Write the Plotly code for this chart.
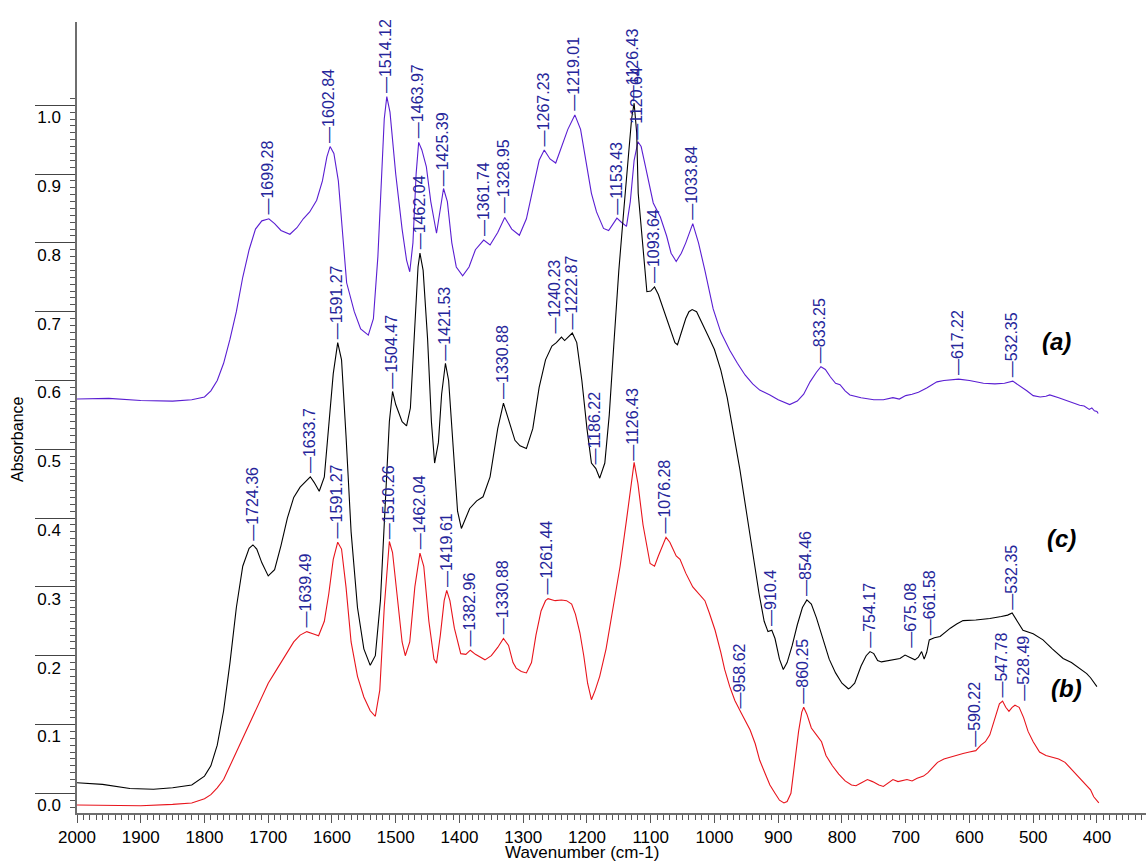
import numpy as np
import plotly.graph_objects as go

# ---------------- data ----------------
# Spectrum (a) - blue
wn_a = [2000, 1950, 1900, 1850, 1820, 1800, 1790, 1780, 1770, 1760, 1750, 1740, 1730, 1720, 1710,
        1699, 1690, 1680, 1666, 1655, 1645, 1635, 1624, 1615, 1608, 1603, 1597, 1590, 1583, 1577,
        1565, 1555, 1543, 1535, 1528, 1522, 1518, 1514, 1509, 1500, 1490, 1483, 1478, 1473, 1468,
        1464, 1459, 1452, 1445, 1436, 1431, 1425, 1419, 1412, 1405, 1395, 1385, 1375, 1362, 1352,
        1340, 1329, 1318, 1306, 1295, 1285, 1275, 1267, 1258, 1249, 1240, 1230, 1219, 1210, 1200,
        1193, 1185, 1174, 1166, 1160, 1153, 1146, 1138, 1132, 1126, 1120, 1115, 1108, 1096, 1085,
        1075, 1068, 1060, 1052, 1045, 1034, 1025, 1015, 1002, 990, 976, 964, 952, 940, 929, 913,
        900, 882, 870, 860, 850, 840, 833, 826, 818, 810, 803, 795, 787.5, 770, 750, 735, 720, 710,
        700, 690, 680, 667, 655, 651, 640, 630, 617, 600, 590, 578, 560, 545, 532, 520, 510, 500,
        489, 480, 474, 460, 445, 435, 427, 420, 412, 408, 404, 400, 398]
abs_a = [0.573, 0.574, 0.571, 0.570, 0.572, 0.576, 0.585, 0.600, 0.625, 0.660, 0.700, 0.750, 0.790, 0.820, 0.832,
         0.835, 0.828, 0.818, 0.8125, 0.822, 0.835, 0.845, 0.862, 0.890, 0.925, 0.940, 0.930, 0.890, 0.810, 0.742,
         0.700, 0.675, 0.666, 0.690, 0.780, 0.900, 0.980, 1.0125, 0.990, 0.900, 0.820, 0.775, 0.758, 0.800, 0.900,
         0.946, 0.935, 0.911, 0.860, 0.814, 0.845, 0.879, 0.860, 0.800, 0.765, 0.752, 0.765, 0.790, 0.804, 0.797,
         0.815, 0.837, 0.820, 0.811, 0.835, 0.880, 0.920, 0.935, 0.922, 0.916, 0.940, 0.965, 0.986, 0.965, 0.910,
         0.872, 0.845, 0.821, 0.818, 0.826, 0.836, 0.830, 0.824, 0.860, 0.920, 0.947, 0.940, 0.910, 0.858, 0.838,
         0.810, 0.785, 0.773, 0.785, 0.800, 0.828, 0.800, 0.760, 0.704, 0.670, 0.644, 0.625, 0.608, 0.595, 0.586, 0.579,
         0.572, 0.565, 0.570, 0.580, 0.598, 0.612, 0.620, 0.616, 0.605, 0.596, 0.594, 0.585, 0.579, 0.575, 0.572, 0.572, 0.575, 0.573,
         0.578, 0.580, 0.583, 0.589, 0.596, 0.598, 0.600, 0.601, 0.602, 0.600, 0.598, 0.596, 0.595, 0.596, 0.599, 0.592, 0.585, 0.578,
         0.576, 0.577, 0.579, 0.575, 0.570, 0.566, 0.564, 0.563, 0.558, 0.560, 0.556, 0.555, 0.552]

# Spectrum (c) - black
wn_c = [2000, 1960, 1917, 1880, 1850, 1820, 1800, 1790, 1780, 1770, 1760, 1750, 1740, 1730, 1724,
        1718, 1710, 1700, 1690, 1680, 1670, 1660, 1650, 1640, 1634, 1628, 1620, 1612, 1605, 1598,
        1591, 1585, 1578, 1570, 1560, 1550, 1540, 1532, 1524, 1516, 1510, 1505, 1500, 1490, 1483,
        1477, 1470, 1465, 1462, 1457, 1450, 1444, 1439, 1433, 1428, 1422, 1417, 1410, 1403, 1397,
        1390, 1384, 1373, 1363, 1352, 1340, 1331, 1322, 1313, 1305, 1295, 1285, 1275, 1265, 1255,
        1248, 1240, 1235, 1230, 1223, 1216, 1208, 1200, 1193, 1186, 1180, 1172, 1165, 1158, 1150,
        1142, 1136, 1130, 1126, 1122, 1119.6, 1113, 1106, 1100, 1094, 1088, 1080, 1070, 1062, 1058,
        1052, 1045, 1040, 1035, 1028, 1020, 1010, 1000, 990, 980, 970, 960, 950, 940, 930, 922,
        916, 910, 905, 898, 892, 886, 878, 870, 862, 855, 848, 840, 830, 820, 810, 800, 790, 787.5,
        780, 770, 762, 756, 750, 744, 738, 725, 715, 709, 701, 695, 685.5, 680, 675, 671, 667, 663,
        655, 646, 638, 630, 620, 610, 590, 568, 550, 540, 533, 528, 522, 516, 500, 484.6, 470, 453,
        440, 430, 421.5, 416, 410, 405, 400]
abs_c = [0.0154, 0.013, 0.007, 0.006, 0.008, 0.012, 0.025, 0.040, 0.070, 0.120, 0.190, 0.270, 0.330, 0.356, 0.361,
         0.355, 0.335, 0.316, 0.325, 0.360, 0.400, 0.430, 0.445, 0.455, 0.460, 0.452, 0.439, 0.460, 0.530, 0.610,
         0.655, 0.630, 0.520, 0.380, 0.270, 0.210, 0.186, 0.200, 0.280, 0.420, 0.540, 0.584, 0.565, 0.540, 0.534,
         0.560, 0.680, 0.765, 0.785, 0.760, 0.660, 0.540, 0.480, 0.510, 0.580, 0.625, 0.600, 0.500, 0.410, 0.385,
         0.400, 0.414, 0.425, 0.431, 0.460, 0.530, 0.567, 0.540, 0.513, 0.505, 0.501, 0.530, 0.590, 0.630, 0.650,
         0.655, 0.663, 0.658, 0.662, 0.669, 0.655, 0.600, 0.530, 0.480, 0.472, 0.458, 0.480, 0.550, 0.650, 0.760,
         0.850, 0.920, 0.980, 1.003, 0.960, 0.872, 0.800, 0.729, 0.730, 0.736, 0.725, 0.703, 0.675, 0.655, 0.652,
         0.670, 0.690, 0.700, 0.703, 0.700, 0.685, 0.665, 0.645, 0.615, 0.575, 0.525, 0.470, 0.410, 0.350, 0.290, 0.250,
         0.235, 0.237, 0.225, 0.195, 0.180, 0.190, 0.215, 0.245, 0.270, 0.281, 0.275, 0.255, 0.225, 0.195, 0.175, 0.160, 0.152, 0.153,
         0.160, 0.185, 0.200, 0.206, 0.203, 0.193, 0.191, 0.193, 0.194, 0.196, 0.201, 0.198, 0.194, 0.198, 0.206, 0.195, 0.205, 0.223,
         0.226, 0.228, 0.234, 0.240, 0.246, 0.251, 0.252, 0.254, 0.257, 0.259, 0.262, 0.255, 0.245, 0.237, 0.232, 0.223, 0.210, 0.196,
         0.190, 0.183, 0.177, 0.174, 0.168, 0.162, 0.155]

# Spectrum (b) - red
wn_b = [2000, 1950, 1900, 1850, 1820, 1800, 1790, 1780, 1770, 1760, 1750, 1740, 1730, 1720, 1710,
        1700, 1690, 1680, 1670, 1660, 1650, 1639.5, 1630, 1621, 1612, 1605, 1598, 1591, 1585, 1578,
        1570, 1560, 1550, 1540, 1532, 1525, 1518, 1513, 1510, 1505, 1497, 1490, 1485, 1478, 1470,
        1462, 1456, 1448, 1440, 1436, 1430, 1424, 1420, 1415, 1408, 1398, 1390, 1383, 1375, 1365,
        1360, 1350, 1340, 1331, 1323, 1316, 1311, 1303, 1295, 1287, 1280, 1272, 1265, 1261, 1250,
        1240, 1232, 1224, 1218, 1211, 1205, 1199, 1193, 1187, 1180, 1170, 1159, 1148, 1138, 1132,
        1126, 1120, 1112, 1101, 1094, 1088, 1082, 1076, 1070, 1060, 1054, 1045, 1034, 1025, 1015,
        1008, 999, 990, 984, 976, 968, 958.6, 951, 944, 936, 929, 921, 913, 905, 898, 891,
        886, 880, 875, 868, 863, 860, 855, 848, 840, 832, 825, 815, 805, 795, 785, 778, 770, 760,
        752, 742, 735, 728, 720, 712, 705, 698, 690, 682, 672, 665, 660, 650, 640, 630, 620, 610,
        600, 590, 582, 575, 568, 560, 553, 548, 543, 538, 533, 528.5, 522, 515, 508, 500, 490, 480,
        470, 460, 450, 440, 430, 420, 410, 405, 400, 397]
abs_b = [-0.017, -0.017, -0.018, -0.016, -0.014, -0.008, -0.002, 0.008, 0.020, 0.040, 0.060, 0.080, 0.100, 0.120, 0.140,
         0.160, 0.175, 0.190, 0.205, 0.220, 0.230, 0.235, 0.232, 0.229, 0.250, 0.290, 0.340, 0.365, 0.355, 0.300,
         0.220, 0.170, 0.140, 0.120, 0.112, 0.150, 0.270, 0.340, 0.366, 0.350, 0.280, 0.220, 0.200, 0.220, 0.300,
         0.349, 0.330, 0.250, 0.195, 0.189, 0.230, 0.280, 0.295, 0.280, 0.240, 0.203, 0.202, 0.208, 0.202, 0.196,
         0.194, 0.200, 0.212, 0.225, 0.215, 0.190, 0.182, 0.177, 0.175, 0.190, 0.230, 0.265, 0.280, 0.283, 0.280,
         0.281, 0.280, 0.275, 0.260, 0.233, 0.200, 0.160, 0.136, 0.150, 0.170, 0.210, 0.271, 0.330, 0.397, 0.440,
         0.481, 0.450, 0.390, 0.334, 0.330, 0.345, 0.360, 0.372, 0.365, 0.345, 0.340, 0.320, 0.300, 0.290, 0.280,
         0.262, 0.237, 0.205, 0.180, 0.155, 0.135, 0.118, 0.105, 0.092, 0.072, 0.048, 0.030, 0.012, 0.000, -0.010, -0.014,
         -0.012, 0.000, 0.040, 0.090, 0.118, 0.125, 0.115, 0.095, 0.085, 0.075, 0.055, 0.040, 0.028, 0.018, 0.012, 0.011, 0.015, 0.020,
         0.017, 0.012, 0.010, 0.015, 0.020, 0.017, 0.019, 0.020, 0.018, 0.022, 0.025, 0.030, 0.035, 0.045, 0.050, 0.053, 0.055, 0.058,
         0.060, 0.062, 0.070, 0.075, 0.085, 0.110, 0.130, 0.134, 0.125, 0.119, 0.125, 0.128, 0.125, 0.110, 0.090, 0.075, 0.060, 0.055,
         0.052, 0.050, 0.045, 0.035, 0.025, 0.015, 0.005, -0.005, -0.010, -0.014]

# Peak labels (wavenumber, printed text) per spectrum
peaks_a = [1699.28, 1602.84, 1514.12, 1463.97, 1425.39, 1361.74, 1328.95, 1267.23, 1219.01,
           1153.43, 1120.64, 1033.84, 833.25, 617.22, 532.35]
peak_text_a = ["1699.28", "1602.84", "1514.12", "1463.97", "1425.39", "1361.74", "1328.95", "1267.23",
               "1219.01", "1153.43", "1120.64", "1033.84", "833.25", "617.22", "532.35"]
peaks_c = [1724.36, 1633.7, 1591.27, 1504.47, 1462.04, 1421.53, 1330.88, 1240.23, 1222.87,
           1186.22, 1126.43, 1093.64, 910.4, 854.46, 754.17, 675.08, 661.58, 532.35]
peak_text_c = ["1724.36", "1633.7", "1591.27", "1504.47", "1462.04", "1421.53", "1330.88", "1240.23",
               "1222.87", "1186.22", "1126.43", "1093.64", "910.4", "854.46", "754.17", "675.08",
               "661.58", "532.35"]
peaks_b = [1639.49, 1591.27, 1510.26, 1462.04, 1419.61, 1382.96, 1330.88, 1261.44, 1126.43,
           1076.28, 958.62, 860.25, 590.22, 547.78, 528.49]
peak_text_b = ["1639.49", "1591.27", "1510.26", "1462.04", "1419.61", "1382.96", "1330.88", "1261.44",
               "1126.43", "1076.28", "958.62", "860.25", "590.22", "547.78", "528.49"]

# labels whose text is displaced sideways from its peak (bent leader in the original)
label_offsets = {"1240.23": -6, "675.08": -10, "528.49": 10}

# curve name labels
curve_names = ["(a)", "(c)", "(b)"]
curve_name_x = [462.7, 455.4, 447.5]
curve_name_y = [0.656, 0.371, 0.153]

x_ticks = list(range(2000, 399, -100))
y_ticks = [round(0.1 * i, 1) for i in range(0, 11)]

# ---------------- figure ----------------
BLUE = "#5a1ed2"
BLACK = "#000000"
RED = "#e8141c"
LABEL = "#25259a"
FONT = "Liberation Sans, Arial, sans-serif"

fig = go.Figure()
series = [(wn_a, abs_a, BLUE), (wn_c, abs_c, BLACK), (wn_b, abs_b, RED)]
for wn, ab, col in series:
    fig.add_trace(go.Scatter(x=wn, y=ab, mode="lines", line=dict(color=col, width=1.1),
                             hoverinfo="skip", showlegend=False))

annotations = []
for wn, ab, pk, txt in [(wn_a, abs_a, peaks_a, peak_text_a),
                        (wn_c, abs_c, peaks_c, peak_text_c),
                        (wn_b, abs_b, peaks_b, peak_text_b)]:
    xs = np.array(wn[::-1], dtype=float)
    ys = np.array(ab[::-1], dtype=float)
    for p, t in zip(pk, txt):
        yv = float(np.interp(p, xs, ys))
        annotations.append(dict(x=p, y=yv, xref="x", yref="y", text="\u2014" + t,
                                textangle=-90, showarrow=False, xanchor="center", yanchor="bottom",
                                yshift=2, xshift=label_offsets.get(t, 0) - 1,
                                font=dict(family=FONT, size=16, color=LABEL)))

for name, xv, yv in zip(curve_names, curve_name_x, curve_name_y):
    annotations.append(dict(x=xv, y=yv, xref="x", yref="y", text="<b><i>" + name + "</i></b>",
                            showarrow=False, xanchor="center", yanchor="middle",
                            font=dict(family=FONT, size=24, color="black")))

# axis titles
annotations.append(dict(x=0.4725, y=0, xref="paper", yref="paper", text="Wavenumber (cm-1)",
                        showarrow=False, xanchor="center", yanchor="middle", yshift=-39,
                        font=dict(family=FONT, size=17, color="black")))
annotations.append(dict(x=0, y=0.4716, xref="paper", yref="paper", text="Absorbance",
                        showarrow=False, xanchor="center", yanchor="middle", xshift=-59,
                        textangle=-90, font=dict(family=FONT, size=16, color="black")))

fig.update_layout(
    width=1146, height=863,
    margin=dict(l=77, r=0, t=22, b=50, autoexpand=False),
    plot_bgcolor="white", paper_bgcolor="white",
    font=dict(family=FONT, size=17, color="black"),
    annotations=annotations,
    showlegend=False,
)

fig.update_xaxes(
    range=[2000, 323], tickvals=x_ticks, ticktext=[str(v) for v in x_ticks],
    ticks="outside", ticklen=8, tickwidth=1, tickcolor="#555555",
    showline=True, linecolor="#6e6e6e", linewidth=1.5,
    showgrid=False, zeroline=False, automargin=False,
    minor=dict(dtick=10, tick0=0, ticks="outside", ticklen=5, tickwidth=1, tickcolor="#555555"),
    tickfont=dict(family=FONT, size=17, color="black"),
)

minor_y = [round(-0.02 + 0.01 * i, 2) for i in range(0, 104)]
fig.update_yaxes(
    range=[-0.0286, 1.121], tickvals=y_ticks, ticktext=["%.1f" % v for v in y_ticks],
    ticks="outside", ticklen=40, tickwidth=1.3, tickcolor="#444444",
    ticklabelstandoff=-29, ticklabelshift=12,
    showline=True, linecolor="#6e6e6e", linewidth=1.5,
    showgrid=False, zeroline=False, automargin=False,
    minor=dict(tickvals=minor_y, ticks="outside", ticklen=5, tickwidth=1, tickcolor="#555555"),
    tickfont=dict(family=FONT, size=17, color="black"),
)

fig.write_html("out.html", config={"displayModeBar": False},
               post_script="document.body.style.margin='0';")
